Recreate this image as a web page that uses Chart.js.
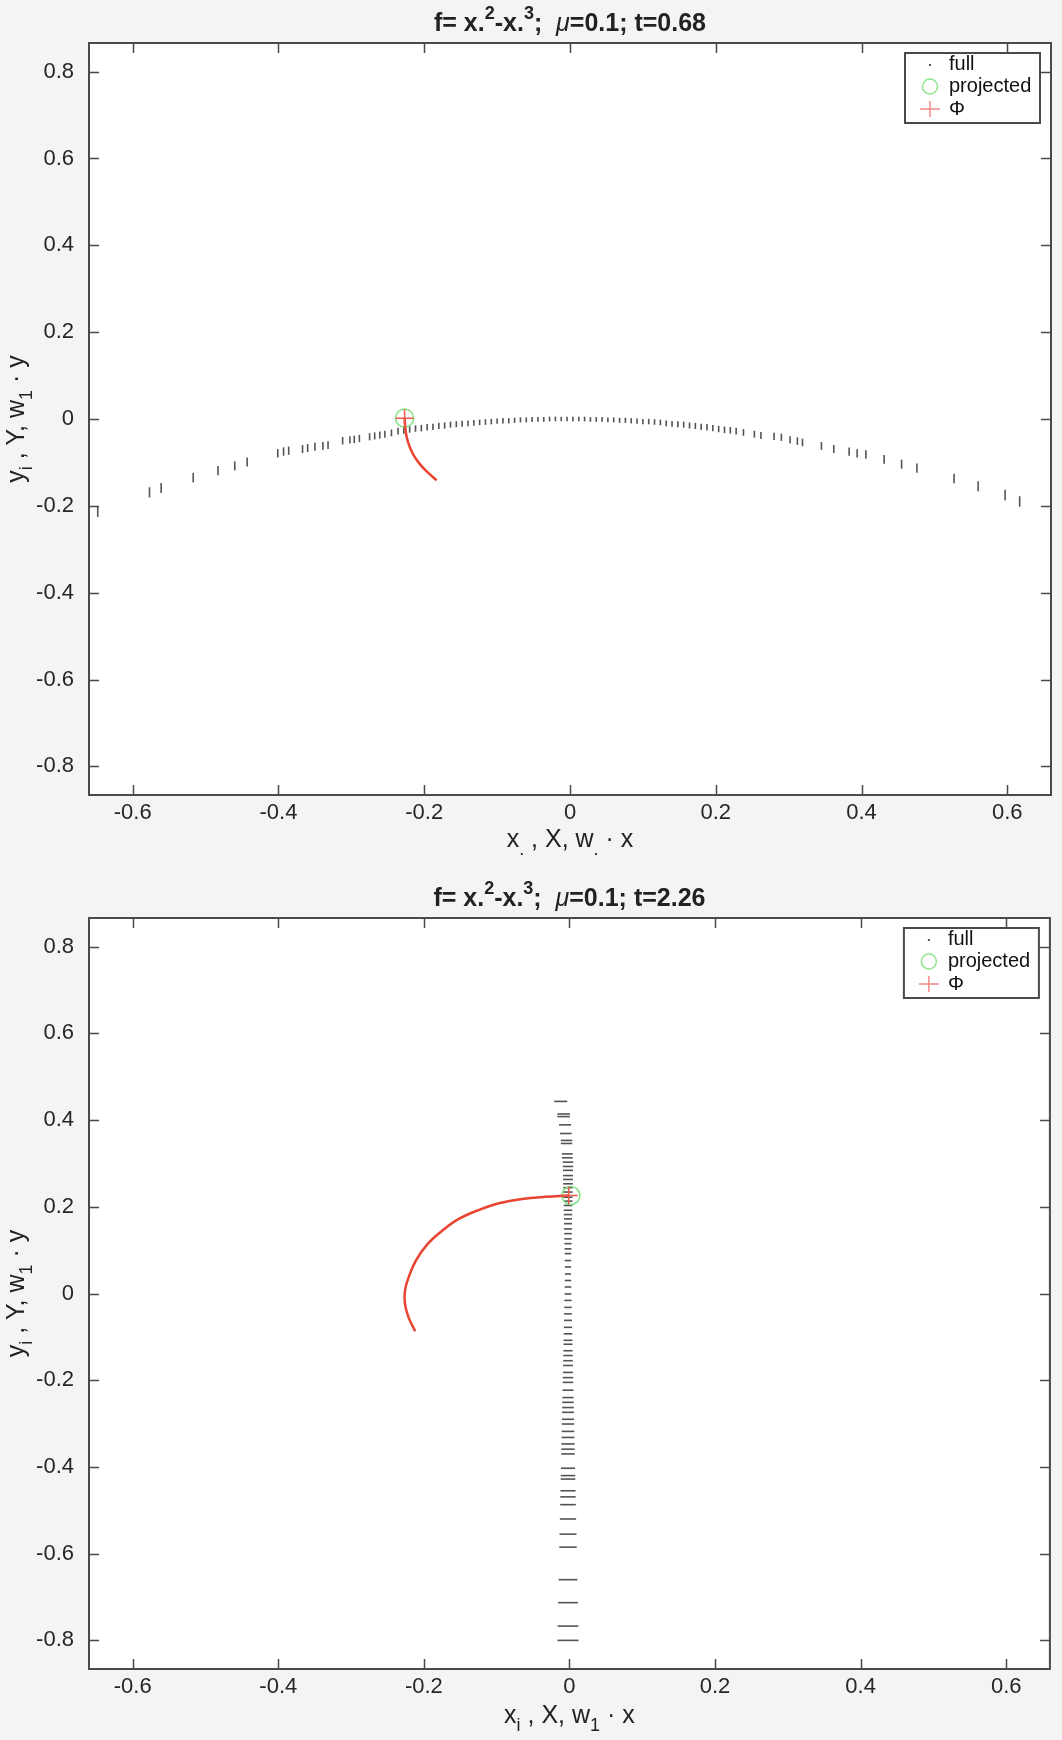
<!DOCTYPE html>
<html>
<head>
<meta charset="utf-8">
<script src="https://cdn.jsdelivr.net/npm/chart.js@4.4.0/dist/chart.umd.min.js"></script>
<style>
  html, body { margin: 0; padding: 0; background: #f4f4f4; }
  .wrap { position: absolute; left: 0; width: 1062px; height: 870px; }
  #w1 { top: 0; }
  #w2 { top: 870px; }
</style>
</head>
<body>
<div class="wrap" id="w1"><canvas id="c1"></canvas></div>
<div class="wrap" id="w2"><canvas id="c2"></canvas></div>
<script>
const xTicks = [-0.6, -0.4, -0.2, 0, 0.2, 0.4, 0.6];
const xTickLabels = ['-0.6', '-0.4', '-0.2', '0', '0.2', '0.4', '0.6'];
const yTicks = [-0.8, -0.6, -0.4, -0.2, 0, 0.2, 0.4, 0.6, 0.8];
const yTickLabels = ['-0.8', '-0.6', '-0.4', '-0.2', '0', '0.2', '0.4', '0.6', '0.8'];
const xLimits = [-0.66, 0.66];
const yLimits = [-0.866, 0.866];
const seriesNames = ['full', 'projected', 'Φ'];

// t = 0.68
const topFullX = [-0.648, -0.577, -0.561, -0.517, -0.483, -0.460, -0.443, -0.401, -0.393, -0.386, -0.367, -0.360,
  -0.350, -0.339, -0.332, -0.312, -0.302, -0.296, -0.289, -0.275, -0.268, -0.261, -0.254, -0.245,
  -0.236, -0.228, -0.220, -0.212, -0.204, -0.196, -0.188, -0.180, -0.172, -0.164, -0.156, -0.148,
  -0.140, -0.132, -0.124, -0.116, -0.108, -0.100, -0.092, -0.084, -0.076, -0.068, -0.060, -0.052,
  -0.044, -0.036, -0.028, -0.020, -0.012, -0.004, 0.004, 0.012, 0.020, 0.028, 0.036, 0.044,
  0.052, 0.060, 0.068, 0.076, 0.084, 0.092, 0.100, 0.108, 0.116, 0.124, 0.132, 0.140,
  0.148, 0.156, 0.164, 0.172, 0.180, 0.188, 0.196, 0.204, 0.212, 0.220, 0.228, 0.238,
  0.253, 0.262, 0.280, 0.290, 0.302, 0.312, 0.319, 0.345, 0.362, 0.383, 0.394, 0.406,
  0.431, 0.455, 0.476, 0.527, 0.560, 0.597, 0.617];
const topFullY = [-0.213, -0.169, -0.159, -0.135, -0.119, -0.108, -0.099, -0.079, -0.075, -0.073, -0.069, -0.067,
  -0.064, -0.062, -0.060, -0.050, -0.048, -0.047, -0.045, -0.041, -0.039, -0.037, -0.035, -0.032,
  -0.028, -0.026, -0.024, -0.022, -0.021, -0.019, -0.018, -0.016, -0.015, -0.013, -0.012, -0.011,
  -0.010, -0.009, -0.008, -0.007, -0.006, -0.005, -0.004, -0.004, -0.003, -0.002, -0.002, -0.001,
  -0.001, -0.001, 0, 0, 0, 0, 0, 0, 0, -0.001, -0.001, -0.001,
  -0.002, -0.002, -0.003, -0.003, -0.004, -0.005, -0.006, -0.006, -0.007, -0.008, -0.010, -0.011,
  -0.012, -0.013, -0.015, -0.016, -0.018, -0.019, -0.021, -0.023, -0.025, -0.026, -0.028, -0.031,
  -0.035, -0.038, -0.040, -0.042, -0.048, -0.051, -0.054, -0.062, -0.069, -0.075, -0.079, -0.082,
  -0.093, -0.104, -0.113, -0.137, -0.155, -0.175, -0.190];
const topProjX = [-0.227];
const topProjY = [0.002];
const topPhiX = [-0.227, -0.226, -0.224, -0.220, -0.214, -0.206, -0.196, -0.183];
const topPhiY = [0.002, -0.020, -0.042, -0.064, -0.085, -0.104, -0.122, -0.141];

// t = 2.26
const botFullY = [0.443, 0.414, 0.408, 0.389, 0.369, 0.353, 0.346, 0.322, 0.313, 0.303, 0.293, 0.284,
  0.272, 0.263, 0.253, 0.244, 0.234, 0.222, 0.213, 0.203, 0.192, 0.182, 0.172, 0.161,
  0.149, 0.138, 0.126, 0.115, 0.103, 0.092, 0.076, 0.061, 0.045, 0.030, 0.015, -0.001,
  -0.016, -0.032, -0.047, -0.062, -0.078, -0.093, -0.108, -0.117, -0.132, -0.143, -0.155, -0.166,
  -0.182, -0.194, -0.205, -0.223, -0.240, -0.251, -0.263, -0.274, -0.290, -0.301, -0.318, -0.332,
  -0.347, -0.359, -0.370, -0.403, -0.420, -0.428, -0.455, -0.469, -0.487, -0.520, -0.555, -0.585,
  -0.660, -0.713, -0.767, -0.800];
const botFullX = [-0.012, -0.008, -0.008, -0.006, -0.005, -0.004, -0.004, -0.003, -0.003, -0.002, -0.002, -0.002,
  -0.002, -0.002, -0.002, -0.002, -0.002, -0.002, -0.002, -0.002, -0.002, -0.002, -0.002, -0.002,
  -0.002, -0.002, -0.002, -0.002, -0.002, -0.002, -0.002, -0.002, -0.002, -0.002, -0.002, -0.002,
  -0.002, -0.002, -0.002, -0.002, -0.002, -0.002, -0.002, -0.002, -0.002, -0.002, -0.002, -0.002,
  -0.002, -0.002, -0.002, -0.002, -0.002, -0.002, -0.002, -0.002, -0.002, -0.002, -0.002, -0.002,
  -0.002, -0.002, -0.002, -0.002, -0.002, -0.002, -0.002, -0.002, -0.002, -0.002, -0.002, -0.002,
  -0.002, -0.002, -0.002, -0.002];
const botProjX = [0.002];
const botProjY = [0.226];
const botPhiX = [-0.001, -0.033, -0.065, -0.097, -0.124, -0.152, -0.174, -0.195, -0.211, -0.221, -0.226, -0.226, -0.221, -0.212];
const botPhiY = [0.226, 0.223, 0.218, 0.208, 0.193, 0.172, 0.146, 0.114, 0.076, 0.037, 0.006, -0.024, -0.055, -0.087];

const FONT = '"Liberation Sans", Arial, Helvetica, sans-serif';
const FRAME = '#4a4a4a';

const pts = (xs, ys) => xs.map((x, i) => ({x: x, y: ys[i]}));

function drawRich(ctx, segs, x, y, size, bold) {
    const parts = segs.map(s => {
        const small = s.sub || s.sup;
        const fs = small ? Math.round(size * 0.7) : size;
        const font = `${s.it ? 'italic ' : ''}${bold && !s.it ? 'bold ' : ''}${fs}px ${FONT}`;
        ctx.font = font;
        return {t: s.t, font: font, w: ctx.measureText(s.t).width, dy: s.sub ? size * 0.32 : (s.sup ? -size * 0.5 : 0)};
    });
    const total = parts.reduce((a, p) => a + p.w, 0);
    let cx = x - total / 2;
    ctx.textAlign = 'left';
    ctx.textBaseline = 'alphabetic';
    parts.forEach(p => { ctx.font = p.font; ctx.fillText(p.t, cx, y + p.dy); cx += p.w; });
}

const matlabLook = {
    id: 'matlabLook',
    beforeDraw(chart) {
        const {ctx, chartArea: a} = chart;
        ctx.save();
        ctx.fillStyle = '#ffffff';
        ctx.fillRect(a.left, a.top, a.right - a.left, a.bottom - a.top);
        ctx.restore();
    },
    afterDraw(chart, args, o) {
        const {ctx, chartArea: a, scales} = chart;
        ctx.save();
        // inward ticks on all four sides
        ctx.strokeStyle = FRAME;
        ctx.lineWidth = 1.5;
        ctx.beginPath();
        xTicks.forEach(v => {
            const px = Math.round(scales.x.getPixelForValue(v)) + 0.5;
            ctx.moveTo(px, a.bottom); ctx.lineTo(px, a.bottom - 10);
            ctx.moveTo(px, a.top); ctx.lineTo(px, a.top + 10);
        });
        yTicks.forEach(v => {
            const py = Math.round(scales.y.getPixelForValue(v)) + 0.5;
            ctx.moveTo(a.left, py); ctx.lineTo(a.left + 10, py);
            ctx.moveTo(a.right, py); ctx.lineTo(a.right - 10, py);
        });
        ctx.stroke();
        ctx.lineWidth = 2;
        ctx.strokeRect(a.left, a.top, a.right - a.left, a.bottom - a.top);

        // texts
        ctx.fillStyle = '#222';
        drawRich(ctx, o.title, (a.left + a.right) / 2, a.top - 12, 25, true);
        drawRich(ctx, o.xlabel, (a.left + a.right) / 2, o.xlabelY, 25, false);
        ctx.save();
        ctx.translate(24, (a.top + a.bottom) / 2);
        ctx.rotate(-Math.PI / 2);
        drawRich(ctx, o.ylabel, 0, 0, 25, false);
        ctx.restore();

        // legend box
        const bx = a.right - 146, by = a.top + 10, bw = 135, bh = 70;
        ctx.fillStyle = '#ffffff';
        ctx.fillRect(bx, by, bw, bh);
        ctx.strokeStyle = FRAME;
        ctx.lineWidth = 2;
        ctx.strokeRect(bx, by, bw, bh);
        const mx = bx + 25;
        chart.data.datasets.forEach((ds, i) => {
            const ly = by + 11 + i * 22.5;
            ctx.strokeStyle = ds.legendColor;
            ctx.fillStyle = ds.legendColor;
            ctx.lineWidth = 1.5;
            if (i === 0) {
                ctx.fillRect(mx - 1, ly, 2, 2);
            } else if (i === 1) {
                ctx.beginPath(); ctx.arc(mx, ly, 7.5, 0, Math.PI * 2); ctx.stroke();
            } else {
                ctx.beginPath();
                ctx.moveTo(mx - 10, ly); ctx.lineTo(mx + 10, ly);
                ctx.moveTo(mx, ly - 8); ctx.lineTo(mx, ly + 8);
                ctx.stroke();
            }
            ctx.fillStyle = '#111';
            ctx.font = `20px ${FONT}`;
            ctx.textAlign = 'left';
            ctx.textBaseline = 'middle';
            ctx.fillText(ds.label, bx + 44, ly);
        });
        ctx.restore();
    }
};

function makeChart(id, cfg) {
    const fullDash = cfg.vertical
        ? ctx => 2.2 + 5 * Math.abs(ctx.raw ? ctx.raw.x : 0)
        : ctx => Math.min(10.5, 3 + 9 * Math.abs((ctx.raw ? ctx.raw.y : 0) - 0.05));
    return new Chart(document.getElementById(id), {
        type: 'scatter',
        data: {
            datasets: [
                {
                    label: seriesNames[0], data: cfg.full, order: 3,
                    pointStyle: 'line', rotation: cfg.vertical ? 90 : 0,
                    pointRadius: fullDash, pointBorderWidth: 1.6,
                    borderColor: 'rgba(25,25,25,0.75)', backgroundColor: 'rgba(25,25,25,0.75)',
                    legendColor: '#555'
                },
                {
                    label: seriesNames[1], data: cfg.proj, order: 2,
                    pointStyle: 'circle', pointRadius: 9, pointBorderWidth: 1.6,
                    borderColor: '#86e386', backgroundColor: 'rgba(0,0,0,0)',
                    legendColor: '#8fe68f'
                },
                {
                    label: seriesNames[2], data: cfg.phi, order: 1, showLine: true,
                    borderColor: '#e8442f', borderWidth: 2.5, tension: 0.4,
                    pointStyle: 'cross', pointRadius: c => c.dataIndex === 0 ? 9 : 0,
                    pointBorderWidth: 1.5, pointBorderColor: '#ee5a4a',
                    legendColor: '#f28b8b'
                }
            ]
        },
        options: {
            animation: false,
            responsive: true,
            maintainAspectRatio: false,
            layout: { padding: { top: cfg.top, right: 11, left: 0, bottom: 0 } },
            plugins: {
                legend: { display: false },
                title: { display: false },
                tooltip: { enabled: false },
                matlabLook: { title: cfg.title, xlabel: cfg.xlabel, ylabel: cfg.ylabel, xlabelY: cfg.xlabelY }
            },
            scales: {
                x: {
                    type: 'linear', min: xLimits[0], max: xLimits[1],
                    afterBuildTicks: s => { s.ticks = xTicks.map(v => ({value: v})); },
                    afterFit: s => { s.height = 870 - cfg.bottom; },
                    grid: { display: false },
                    border: { display: false },
                    ticks: {
                        padding: -3, color: '#262626', font: { family: FONT, size: 22 },
                        maxRotation: 0, autoSkip: false,
                        callback: (v, i) => xTickLabels[i]
                    }
                },
                y: {
                    type: 'linear', min: yLimits[0], max: yLimits[1],
                    afterBuildTicks: s => { s.ticks = yTicks.map(v => ({value: v})); },
                    afterFit: s => { s.width = 89; },
                    grid: { display: false },
                    border: { display: false },
                    ticks: {
                        padding: 7, color: '#262626', font: { family: FONT, size: 22 },
                        autoSkip: false,
                        callback: (v, i) => yTickLabels[i]
                    }
                }
            }
        },
        plugins: [matlabLook]
    });
}

const ylabelSegs = [{t: 'y'}, {t: 'i', sub: true}, {t: ' , Y, w'}, {t: '1', sub: true}, {t: ' · y'}];

makeChart('c1', {
    vertical: true, top: 43, bottom: 795, xlabelY: 847,
    full: pts(topFullX, topFullY), proj: pts(topProjX, topProjY), phi: pts(topPhiX, topPhiY),
    title: [{t: 'f= x.'}, {t: '2', sup: true}, {t: '-x.'}, {t: '3', sup: true}, {t: ';  '}, {t: 'μ', it: true}, {t: '=0.1; t=0.68'}],
    xlabel: [{t: 'x'}, {t: '.', sub: true}, {t: ' , X, w'}, {t: '.', sub: true}, {t: ' · x'}],
    ylabel: ylabelSegs
});

makeChart('c2', {
    vertical: false, top: 48, bottom: 799, xlabelY: 853,
    full: pts(botFullX, botFullY), proj: pts(botProjX, botProjY), phi: pts(botPhiX, botPhiY),
    title: [{t: 'f= x.'}, {t: '2', sup: true}, {t: '-x.'}, {t: '3', sup: true}, {t: ';  '}, {t: 'μ', it: true}, {t: '=0.1; t=2.26'}],
    xlabel: [{t: 'x'}, {t: 'i', sub: true}, {t: ' , X, w'}, {t: '1', sub: true}, {t: ' · x'}],
    ylabel: ylabelSegs
});
</script>
</body>
</html>
